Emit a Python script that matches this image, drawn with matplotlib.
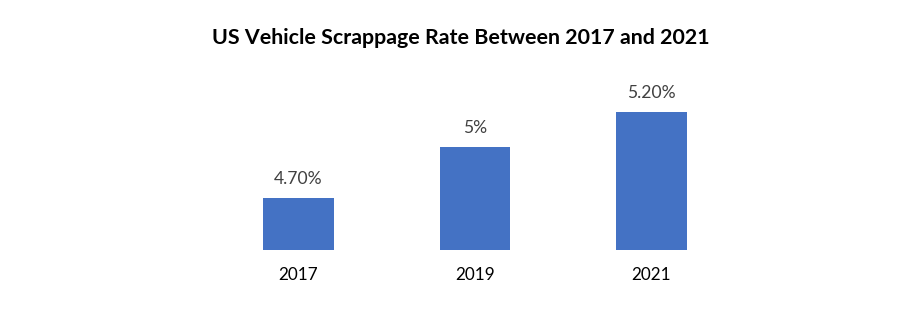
import matplotlib
matplotlib.use('Agg')
from matplotlib import pyplot as plt

plt.rcParams['font.family'] = ['Lato', 'DejaVu Sans']

years = ['2017', '2019', '2021']
rates = [4.7, 5.0, 5.2]
rate_labels = ['4.70%', '5%', '5.20%']

fig = plt.figure(figsize=(9, 3.24), dpi=100)
ax = fig.add_axes([0.2336, 0.2284, 0.5883, 0.5309])

x = list(range(len(years)))
bars = ax.bar(x, rates, width=0.4, color='#4472C4', bottom=0)
ax.set_ylim(4.4, 5.4)
ax.set_xlim(-0.5, 2.5)

for xi, r, lab in zip(x, rates, rate_labels):
    ax.annotate(lab, (xi, r), xytext=(0, 8), textcoords='offset points',
                ha='center', va='bottom', fontsize=12.6, color='#404040')

ax.set_xticks(x)
ax.set_xticklabels(years, fontsize=12.3, color='#000000')
ax.tick_params(axis='x', length=0, pad=12)
ax.set_yticks([])
for s in ax.spines.values():
    s.set_visible(False)

fig.text(0.512, 0.882, 'US Vehicle Scrappage Rate Between 2017 and 2021',
         ha='center', va='center', fontsize=15.4, fontweight='bold')

fig.savefig('out.png', dpi=100)
